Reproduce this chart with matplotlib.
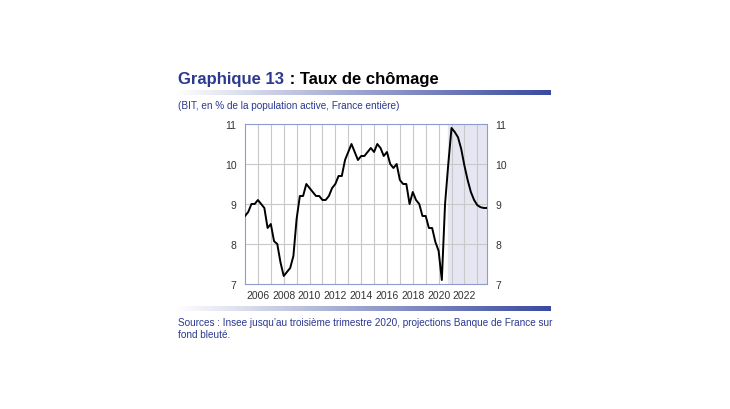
import matplotlib.pyplot as plt
import numpy as np
from matplotlib.colors import LinearSegmentedColormap

# quarterly unemployment rate, 2005Q1 .. 2023Q4
years = np.arange(2005, 2024)
rate = [
    8.7, 8.8, 9.0, 9.0,      # 2005
    9.1, 9.0, 8.9, 8.4,      # 2006
    8.5, 8.07, 8.0, 7.54,    # 2007
    7.2, 7.3, 7.4, 7.7,      # 2008
    8.63, 9.2, 9.2, 9.5,     # 2009
    9.4, 9.3, 9.2, 9.2,      # 2010
    9.1, 9.1, 9.2, 9.4,      # 2011
    9.5, 9.7, 9.7, 10.1,     # 2012
    10.3, 10.5, 10.3, 10.1,  # 2013
    10.2, 10.2, 10.3, 10.4,  # 2014
    10.3, 10.5, 10.4, 10.2,  # 2015
    10.3, 10.0, 9.9, 10.0,   # 2016
    9.6, 9.5, 9.5, 9.0,      # 2017
    9.3, 9.1, 9.0, 8.7,      # 2018
    8.7, 8.4, 8.4, 8.05,     # 2019
    7.83, 7.1, 9.0, 10.0,    # 2020
    10.9, 10.8, 10.67, 10.38,  # 2021
    9.96, 9.6, 9.3, 9.1,     # 2022
    8.97, 8.92, 8.9, 8.9,    # 2023
]
quarters = [y + q / 4 for y in years for q in range(4)]
projection_start = 2020.75
x_labels = [2006, 2008, 2010, 2012, 2014, 2016, 2018, 2020, 2022]
y_ticks = [7, 8, 9, 10, 11]

blue = '#2b3990'
plt.rcParams['font.family'] = ['Liberation Sans', 'DejaVu Sans']

fig = plt.figure(figsize=(7.3, 4.1), dpi=100)


def gradient_bar(y0, height):
    # thin white-to-blue band across the panel
    bar = fig.add_axes([175 / 730, 1 - (y0 + height) / 410, 376 / 730, height / 410])
    grad = np.linspace(0, 1, 256).reshape(1, -1)
    cmap = LinearSegmentedColormap.from_list('g', ['#ffffff', '#9aa3cf', '#3a4a9e'])
    bar.imshow(grad, aspect='auto', cmap=cmap, extent=[0, 1, 0, 1])
    bar.set_axis_off()


gradient_bar(91, 5)
gradient_bar(307, 5)

# title in two colours: second part placed right after the first
t1 = fig.text(178 / 730, 1 - 84 / 410, 'Graphique 13', color=blue, fontsize=12,
              fontweight='bold', va='baseline')
fig.add_artist(plt.Annotation(' : Taux de chômage', xy=(1, 0), xycoords=t1,
                              xytext=(0.5, 0), textcoords='offset points',
                              color='black', fontsize=12, fontweight='bold',
                              va='bottom'))
fig.text(178 / 730, 1 - 109 / 410, '(BIT, en % de la population active, France entière)',
         color=blue, fontsize=7.2, va='baseline')
fig.text(178 / 730, 1 - 326 / 410,
         'Sources : Insee jusqu\u2019au troisième trimestre 2020, projections Banque de France sur',
         color=blue, fontsize=7.2, va='baseline')
fig.text(178 / 730, 1 - 338 / 410, 'fond bleuté.', color=blue, fontsize=7.2, va='baseline')

ax = fig.add_axes([245 / 730, 1 - 285 / 410, 242 / 730, 160 / 410])
ax.axvspan(projection_start, 2023.75, color='#e6e6f2', zorder=0)
for y in years[1:]:
    ax.axvline(y, color='#c8c8c8', lw=0.8, zorder=1)
for v in y_ticks[1:-1]:
    ax.axhline(v, color='#c8c8c8', lw=0.8, zorder=1)
ax.plot(quarters, rate, color='black', lw=1.4, zorder=3)

ax.set_xlim(2005, 2023.75)
ax.set_ylim(7, 11)
ax.set_xticks(x_labels)
ax.set_yticks(y_ticks)
ax.tick_params(length=0, labelsize=7.5, colors='#333333', pad=4)
ax.tick_params(axis='y', labelright=True, right=False, pad=6)
for s in ax.spines.values():
    s.set_color('#8f9ad0')
    s.set_linewidth(0.8)

fig.savefig('out.png', dpi=100)
